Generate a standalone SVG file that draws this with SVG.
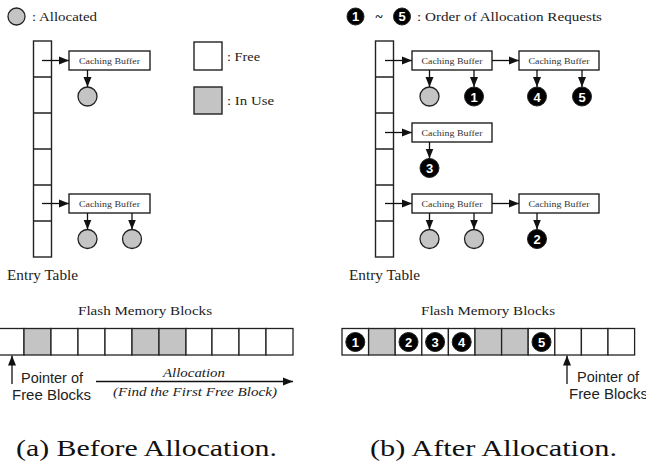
<svg xmlns="http://www.w3.org/2000/svg" width="646" height="462" viewBox="0 0 646 462">
<defs>
<marker id="ah" markerUnits="userSpaceOnUse" markerWidth="11" markerHeight="9" refX="10" refY="4.5" orient="auto">
<path d="M0,0.5 L10,4.5 L0,8.5 Z" fill="#111"/>
</marker>
</defs>
<style>
.ln{stroke:#222;stroke-width:1.3;fill:none}
.box{stroke:#222;stroke-width:1.4;fill:#fff}
.gbox{stroke:#222;stroke-width:1.4;fill:#c4c4c4}
.cell{stroke:#222;stroke-width:1.3;fill:#fff}
.gcell{stroke:#222;stroke-width:1.3;fill:#c4c4c4}
.arr{stroke:#111;stroke-width:1.3;fill:none;marker-end:url(#ah)}
.gc{fill:#c4c4c4;stroke:#222;stroke-width:1.3}
.bc{fill:#000;stroke:#222;stroke-width:1}
.num{font-family:"Liberation Sans",Arial,sans-serif;font-weight:bold;font-size:13px;fill:#fff;text-anchor:middle}
.cb{font-family:"Liberation Serif","Times New Roman",serif;font-size:8px;fill:#333;text-anchor:middle}
.t{font-family:"Liberation Serif","Times New Roman",serif;font-size:13.5px;fill:#222}
.s{font-family:"Liberation Sans",Arial,sans-serif;font-size:14px;fill:#222}
.it{font-family:"Liberation Serif","Times New Roman",serif;font-style:italic;font-size:12.5px;fill:#222;text-anchor:middle}
.cap{font-family:"Liberation Serif","Times New Roman",serif;font-size:24px;fill:#111}
</style>

<!-- Legends -->
<g id="legend-allocated">
<circle class="gc" cx="16.5" cy="16.5" r="8.5"/>
<text class="t" x="32" y="20.5" textLength="65" lengthAdjust="spacingAndGlyphs">: Allocated</text>
</g>
<g id="legend-free">
<rect class="box" x="194" y="42" width="28" height="28"/>
<text class="t" x="227" y="61" textLength="33" lengthAdjust="spacingAndGlyphs">: Free</text>
</g>
<g id="legend-inuse">
<rect class="gbox" x="194" y="87" width="28" height="27"/>
<text class="t" x="227" y="105" textLength="47" lengthAdjust="spacingAndGlyphs">: In Use</text>
</g>
<g id="legend-order">
<circle class="bc" cx="355.5" cy="16.5" r="8.5"/><text class="num" x="355.5" y="21">1</text>
<text class="t" x="375.5" y="21" style="font-weight:bold">~</text>
<circle class="bc" cx="402" cy="16.5" r="8.5"/><text class="num" x="402" y="21">5</text>
<text class="t" x="417" y="21" textLength="185" lengthAdjust="spacingAndGlyphs">: Order of Allocation Requests</text>
</g>

<!-- Left entry table -->
<g id="entry-table-a">
<rect class="box" x="33.5" y="41" width="18" height="216"/>
<path class="ln" d="M33.5,77H51.5M33.5,113H51.5M33.5,149H51.5M33.5,185H51.5M33.5,221H51.5"/>
<text class="t" x="7" y="280" style="font-size:14.5px" textLength="71" lengthAdjust="spacingAndGlyphs">Entry Table</text>
</g>
<g id="buf-a1"><rect class="box" x="69" y="51" width="81" height="19"/><text class="cb" x="109.5" y="64" textLength="61" lengthAdjust="spacingAndGlyphs">Caching Buffer</text></g>
<g id="buf-a2"><rect class="box" x="69" y="194" width="81" height="19"/><text class="cb" x="109.5" y="207" textLength="61" lengthAdjust="spacingAndGlyphs">Caching Buffer</text></g>
<g id="circ-a1"><circle class="gc" cx="87.5" cy="96.5" r="9.5"/></g>
<g id="circ-a2"><circle class="gc" cx="87.5" cy="239" r="9.5"/></g>
<g id="circ-a3"><circle class="gc" cx="132" cy="239" r="9.5"/></g>

<!-- Right entry table -->
<g id="entry-table-b">
<rect class="box" x="375.5" y="41" width="18" height="216"/>
<path class="ln" d="M375.5,77H393.5M375.5,113H393.5M375.5,149H393.5M375.5,185H393.5M375.5,221H393.5"/>
<text class="t" x="349" y="280" style="font-size:14.5px" textLength="71" lengthAdjust="spacingAndGlyphs">Entry Table</text>
</g>
<g id="buf-b1"><rect class="box" x="412" y="51" width="80" height="19"/><text class="cb" x="452" y="64" textLength="61" lengthAdjust="spacingAndGlyphs">Caching Buffer</text></g>
<g id="buf-b2"><rect class="box" x="519" y="51" width="80" height="19"/><text class="cb" x="559" y="64" textLength="61" lengthAdjust="spacingAndGlyphs">Caching Buffer</text></g>
<g id="buf-b3"><rect class="box" x="412" y="123" width="80" height="19"/><text class="cb" x="452" y="136" textLength="61" lengthAdjust="spacingAndGlyphs">Caching Buffer</text></g>
<g id="buf-b4"><rect class="box" x="412" y="194" width="80" height="19"/><text class="cb" x="452" y="207" textLength="61" lengthAdjust="spacingAndGlyphs">Caching Buffer</text></g>
<g id="buf-b5"><rect class="box" x="519" y="194" width="80" height="19"/><text class="cb" x="559" y="207" textLength="61" lengthAdjust="spacingAndGlyphs">Caching Buffer</text></g>
<g id="circ-b1"><circle class="gc" cx="429.5" cy="96.5" r="9.5"/></g>
<g id="circ-b2"><circle class="bc" cx="474" cy="96.5" r="9.5"/><text class="num" x="474" y="101.5">1</text></g>
<g id="circ-b3"><circle class="bc" cx="537" cy="96.5" r="9.5"/><text class="num" x="537" y="101.5">4</text></g>
<g id="circ-b4"><circle class="bc" cx="582" cy="96.5" r="9.5"/><text class="num" x="582" y="101.5">5</text></g>
<g id="circ-b5"><circle class="bc" cx="429.5" cy="168" r="9.5"/><text class="num" x="429.5" y="173">3</text></g>
<g id="circ-b6"><circle class="gc" cx="429.5" cy="239" r="9.5"/></g>
<g id="circ-b7"><circle class="gc" cx="474" cy="239" r="9.5"/></g>
<g id="circ-b8"><circle class="bc" cx="537" cy="239" r="9.5"/><text class="num" x="537" y="244">2</text></g>

<!-- Connectors -->
<g id="connectors">
<path class="arr" d="M42,60.5H69"/>
<path class="arr" d="M42,203.5H69"/>
<path class="arr" d="M87.5,70V87"/>
<path class="arr" d="M87.5,213V229.5"/>
<path class="arr" d="M132,213V229.5"/>
<path class="arr" d="M385,60.5H412"/>
<path class="arr" d="M385,132.5H412"/>
<path class="arr" d="M385,203.5H412"/>
<path class="arr" d="M492,60.5H519"/>
<path class="arr" d="M492,203.5H519"/>
<path class="arr" d="M429.5,70V87"/>
<path class="arr" d="M474,70V87"/>
<path class="arr" d="M537,70V87"/>
<path class="arr" d="M582,70V87"/>
<path class="arr" d="M429.5,142V158.5"/>
<path class="arr" d="M429.5,213V229.5"/>
<path class="arr" d="M474,213V229.5"/>
<path class="arr" d="M537,213V229.5"/>
<path class="arr" d="M12,384V355.5"/>
<path class="arr" d="M96,381.5H293"/>
<path class="arr" d="M567,384V355.5"/>
</g>

<!-- Left flash memory -->
<g id="flash-a">
<text class="t" x="145" y="315" text-anchor="middle" textLength="134" lengthAdjust="spacingAndGlyphs">Flash Memory Blocks</text>
<rect class="cell" x="-3" y="328.5" width="27" height="26.5"/>
<rect class="gcell" x="24" y="328.5" width="27" height="26.5"/>
<rect class="cell" x="51" y="328.5" width="27" height="26.5"/>
<rect class="cell" x="78" y="328.5" width="27" height="26.5"/>
<rect class="cell" x="105" y="328.5" width="27" height="26.5"/>
<rect class="gcell" x="132" y="328.5" width="27" height="26.5"/>
<rect class="gcell" x="159" y="328.5" width="27" height="26.5"/>
<rect class="cell" x="186" y="328.5" width="26" height="26.5"/>
<rect class="cell" x="212" y="328.5" width="27" height="26.5"/>
<rect class="cell" x="239" y="328.5" width="27" height="26.5"/>
<rect class="cell" x="266" y="328.5" width="27" height="26.5"/>
<text class="s" x="21" y="383" textLength="62" lengthAdjust="spacingAndGlyphs">Pointer of</text>
<text class="s" x="12" y="400" textLength="79" lengthAdjust="spacingAndGlyphs">Free Blocks</text>
<text class="it" x="194" y="377" textLength="62" lengthAdjust="spacingAndGlyphs">Allocation</text>
<text class="it" x="195" y="396" textLength="164" lengthAdjust="spacingAndGlyphs">(Find the First Free Block)</text>
</g>

<!-- Right flash memory -->
<g id="flash-b">
<text class="t" x="488" y="315" text-anchor="middle" textLength="134" lengthAdjust="spacingAndGlyphs">Flash Memory Blocks</text>
<rect class="cell" x="342" y="328.5" width="26.6" height="26.5"/>
<rect class="gcell" x="368.6" y="328.5" width="26.6" height="26.5"/>
<rect class="cell" x="395.2" y="328.5" width="26.6" height="26.5"/>
<rect class="cell" x="421.8" y="328.5" width="26.6" height="26.5"/>
<rect class="cell" x="448.4" y="328.5" width="26.6" height="26.5"/>
<rect class="gcell" x="475" y="328.5" width="26.6" height="26.5"/>
<rect class="gcell" x="501.6" y="328.5" width="26.6" height="26.5"/>
<rect class="cell" x="528.2" y="328.5" width="26.6" height="26.5"/>
<rect class="cell" x="554.8" y="328.5" width="26.6" height="26.5"/>
<rect class="cell" x="581.4" y="328.5" width="26.6" height="26.5"/>
<rect class="cell" x="608" y="328.5" width="26.6" height="26.5"/>
<circle class="bc" cx="355.3" cy="342" r="9.5"/><text class="num" x="355.3" y="347">1</text>
<circle class="bc" cx="408.5" cy="342" r="9.5"/><text class="num" x="408.5" y="347">2</text>
<circle class="bc" cx="435.1" cy="342" r="9.5"/><text class="num" x="435.1" y="347">3</text>
<circle class="bc" cx="461.7" cy="342" r="9.5"/><text class="num" x="461.7" y="347">4</text>
<circle class="bc" cx="541.5" cy="342" r="9.5"/><text class="num" x="541.5" y="347">5</text>
<text class="s" x="577" y="382" textLength="62" lengthAdjust="spacingAndGlyphs">Pointer of</text>
<text class="s" x="569" y="399" textLength="79" lengthAdjust="spacingAndGlyphs">Free Blocks</text>
</g>

<!-- Captions -->
<text class="cap" x="16" y="456" textLength="261" lengthAdjust="spacingAndGlyphs">(a) Before Allocation.</text>
<text class="cap" x="370" y="456" textLength="247" lengthAdjust="spacingAndGlyphs">(b) After Allocation.</text>
</svg>
